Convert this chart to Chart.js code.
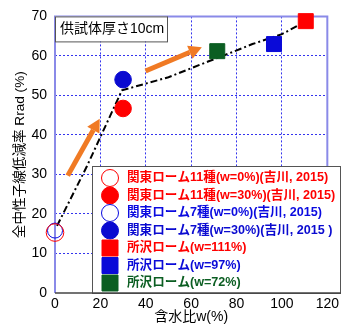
<!DOCTYPE html>
<html>
<head>
<meta charset="utf-8">
<script src="https://cdn.jsdelivr.net/npm/chart.js@4"></script>
<style>
html, body { margin: 0; padding: 0; background: #fff; }
</style>
</head>
<body>
<canvas id="my-chart" width="342" height="331"></canvas>
<script>
// series (one point each)
var labels = [
	'関東ローム11種(w=0%)(吉川, 2015)',
	'関東ローム11種(w=30%)(吉川, 2015)',
	'関東ローム7種(w=0%)(吉川, 2015)',
	'関東ローム7種(w=30%)(吉川, 2015 )',
	'所沢ローム(w=111%)',
	'所沢ローム(w=97%)',
	'所沢ローム(w=72%)'
];
var waterX = [0, 30, 0, 30, 110.5, 96.5, 71.5];
var rradY = [15.3, 46.7, 15.8, 54, 68.8, 63, 61.2];
var colors = ['#ff0000', '#ff0000', '#0a0ae0', '#0a0ad0', '#ff0000', '#0a0ad8', '#0b5e22'];
var filled = [false, true, false, true, true, true, true];
var shapes = ['circle', 'circle', 'circle', 'circle', 'rect', 'rect', 'rect'];

// dash-dot trend line
var trendX = [0.9, 14, 29.5, 50, 68, 77, 87, 100, 110];
var trendY = [17, 32, 51.3, 54.6, 58.7, 60.7, 63, 65.5, 68.6];

// orange arrows (from -> to)
var arrowFromX = [5.6, 39.9];
var arrowFromY = [29.7, 56.2];
var arrowToX = [19.7, 64.7];
var arrowToY = [44.1, 62.2];

var xTicks = [0, 20, 40, 60, 80, 100, 120];
var yTicks = [0, 10, 20, 30, 40, 50, 60, 70];
var noteText = '供試体厚さ10cm';

var tickFont = { family: "'Liberation Sans', 'Noto Sans CJK JP', sans-serif", size: 14 };
var jpFont = "'Liberation Sans', 'Noto Sans CJK JP', sans-serif";

var datasets = [];
for (var i = 0; i < labels.length; i++) {
	var r = shapes[i] == 'rect' ? 10.6 : (filled[i] ? 8.3 : (i == 0 ? 8.8 : 7.5));
	datasets.push({
		label: labels[i],
		data: [{ x: waterX[i], y: rradY[i] }],
		showLine: false,
		clip: false,
		pointStyle: shapes[i],
		pointRadius: r,
		pointHoverRadius: r,
		backgroundColor: filled[i] ? colors[i] : 'rgba(0,0,0,0)',
		borderColor: colors[i],
		borderWidth: 1
	});
}
var trend = [];
for (var i = 0; i < trendX.length; i++) trend.push({ x: trendX[i], y: trendY[i] });
datasets.push({
	label: 'trend',
	data: trend,
	showLine: true,
	borderColor: '#000',
	borderWidth: 2,
	borderDash: [7, 3, 2, 3],
	pointRadius: 0,
	tension: 0,
	fill: false
});

function gridColor(ctx, max) {
	var v = ctx.tick ? ctx.tick.value : null;
	if (v === 0 || v === max) return 'rgba(0,0,0,0)';
	return '#3333ee';
}

var decor = {
	id: 'decor',
	beforeDatasetsDraw: function (chart) {
		var c = chart.ctx, a = chart.chartArea;
		c.save();
		c.strokeStyle = '#8a8ae8';
		c.lineWidth = 2;
		c.beginPath();
		c.moveTo(a.left, a.bottom);
		c.lineTo(a.left, a.top);
		c.lineTo(a.right, a.top);
		c.lineTo(a.right, a.bottom);
		c.stroke();
		c.restore();
	},
	afterDatasetsDraw: function (chart) {
		var c = chart.ctx, a = chart.chartArea;
		var xs = chart.scales.x, ys = chart.scales.y;
		c.save();
		// arrows
		c.fillStyle = '#f07a24';
		c.strokeStyle = '#f07a24';
		for (var i = 0; i < arrowFromX.length; i++) {
			var x1 = xs.getPixelForValue(arrowFromX[i]), y1 = ys.getPixelForValue(arrowFromY[i]);
			var x2 = xs.getPixelForValue(arrowToX[i]), y2 = ys.getPixelForValue(arrowToY[i]);
			var ang = Math.atan2(y2 - y1, x2 - x1);
			var hl = 13, hw = 7;
			var bx = x2 - hl * Math.cos(ang), by = y2 - hl * Math.sin(ang);
			c.lineWidth = 5;
			c.beginPath();
			c.moveTo(x1, y1);
			c.lineTo(bx, by);
			c.stroke();
			c.beginPath();
			c.moveTo(x2, y2);
			c.lineTo(bx + hw * Math.sin(ang), by - hw * Math.cos(ang));
			c.lineTo(bx - hw * Math.sin(ang), by + hw * Math.cos(ang));
			c.closePath();
			c.fill();
		}
		// note box
		c.fillStyle = '#fff';
		c.fillRect(a.left, a.top, 112, 25);
		c.strokeStyle = '#555';
		c.lineWidth = 1;
		c.strokeRect(a.left + 0.5, a.top + 0.5, 112, 25);
		c.fillStyle = '#000';
		c.font = '14px ' + jpFont;
		c.textBaseline = 'middle';
		c.textAlign = 'left';
		c.fillText(noteText, a.left + 5, a.top + 13);
		// legend box
		var lx = 92, ly = 166, lw = 249, lh = a.bottom - ly;
		c.fillStyle = '#fff';
		c.fillRect(lx, ly, lw, lh);
		c.strokeStyle = '#555';
		c.strokeRect(lx + 0.5, ly + 0.5, lw - 1, lh);
		c.font = 'bold 12.6px ' + jpFont;
		for (var i = 0; i < labels.length; i++) {
			var ds = chart.data.datasets[i];
			var cy = 178 + i * 17.5, cx = 110;
			c.fillStyle = ds.backgroundColor;
			c.strokeStyle = ds.borderColor;
			c.beginPath();
			if (ds.pointStyle == 'rect') {
				c.rect(cx - 8, cy - 8, 16, 16);
			} else {
				c.arc(cx, cy, 8.5, 0, Math.PI * 2);
			}
			c.fill();
			c.stroke();
			c.fillStyle = colors[i];
			c.fillText(labels[i], 127, cy);
		}
		// bottom axis line
		c.strokeStyle = '#444';
		c.lineWidth = 1.5;
		c.beginPath();
		c.moveTo(a.left, a.bottom);
		c.lineTo(341, a.bottom);
		c.stroke();
		c.restore();
	}
};

var myChart = new Chart(document.getElementById('my-chart'), {
	type: 'scatter',
	data: { datasets: datasets },
	options: {
		responsive: false,
		animation: false,
		devicePixelRatio: 1,
		layout: { padding: { top: 15, right: 7, left: 0, bottom: 0 } },
		plugins: { legend: { display: false }, tooltip: { enabled: false } },
		scales: {
			x: {
				type: 'linear', min: 0, max: 120,
				afterBuildTicks: function (s) { s.ticks = xTicks.map(function (v) { return { value: v }; }); },
				afterFit: function (s) { s.height = 38; },
				ticks: { color: '#000', font: tickFont, padding: 3, maxRotation: 0 },
				grid: { drawTicks: false, color: function (ctx) { return gridColor(ctx, 120); }, lineWidth: 1 },
				border: { display: false, dash: [2, 2] },
				title: { display: true, text: '含水比w(%)', color: '#000', font: { family: jpFont, size: 14 }, padding: { top: 0, bottom: 5 } }
			},
			y: {
				type: 'linear', min: 0, max: 70,
				afterBuildTicks: function (s) { s.ticks = yTicks.map(function (v) { return { value: v }; }); },
				afterFit: function (s) { s.width = 55; },
				ticks: { color: '#000', font: tickFont, padding: 8 },
				grid: { drawTicks: false, color: function (ctx) { return gridColor(ctx, 70); }, lineWidth: 1 },
				border: { display: false, dash: [2, 2] },
				title: { display: true, text: '全中性子線低減率 Rrad (%)', color: '#000', font: { family: jpFont, size: 13.6 }, padding: { top: 12, bottom: 0 } }
			}
		}
	},
	plugins: [decor]
});
</script>
</body>
</html>
